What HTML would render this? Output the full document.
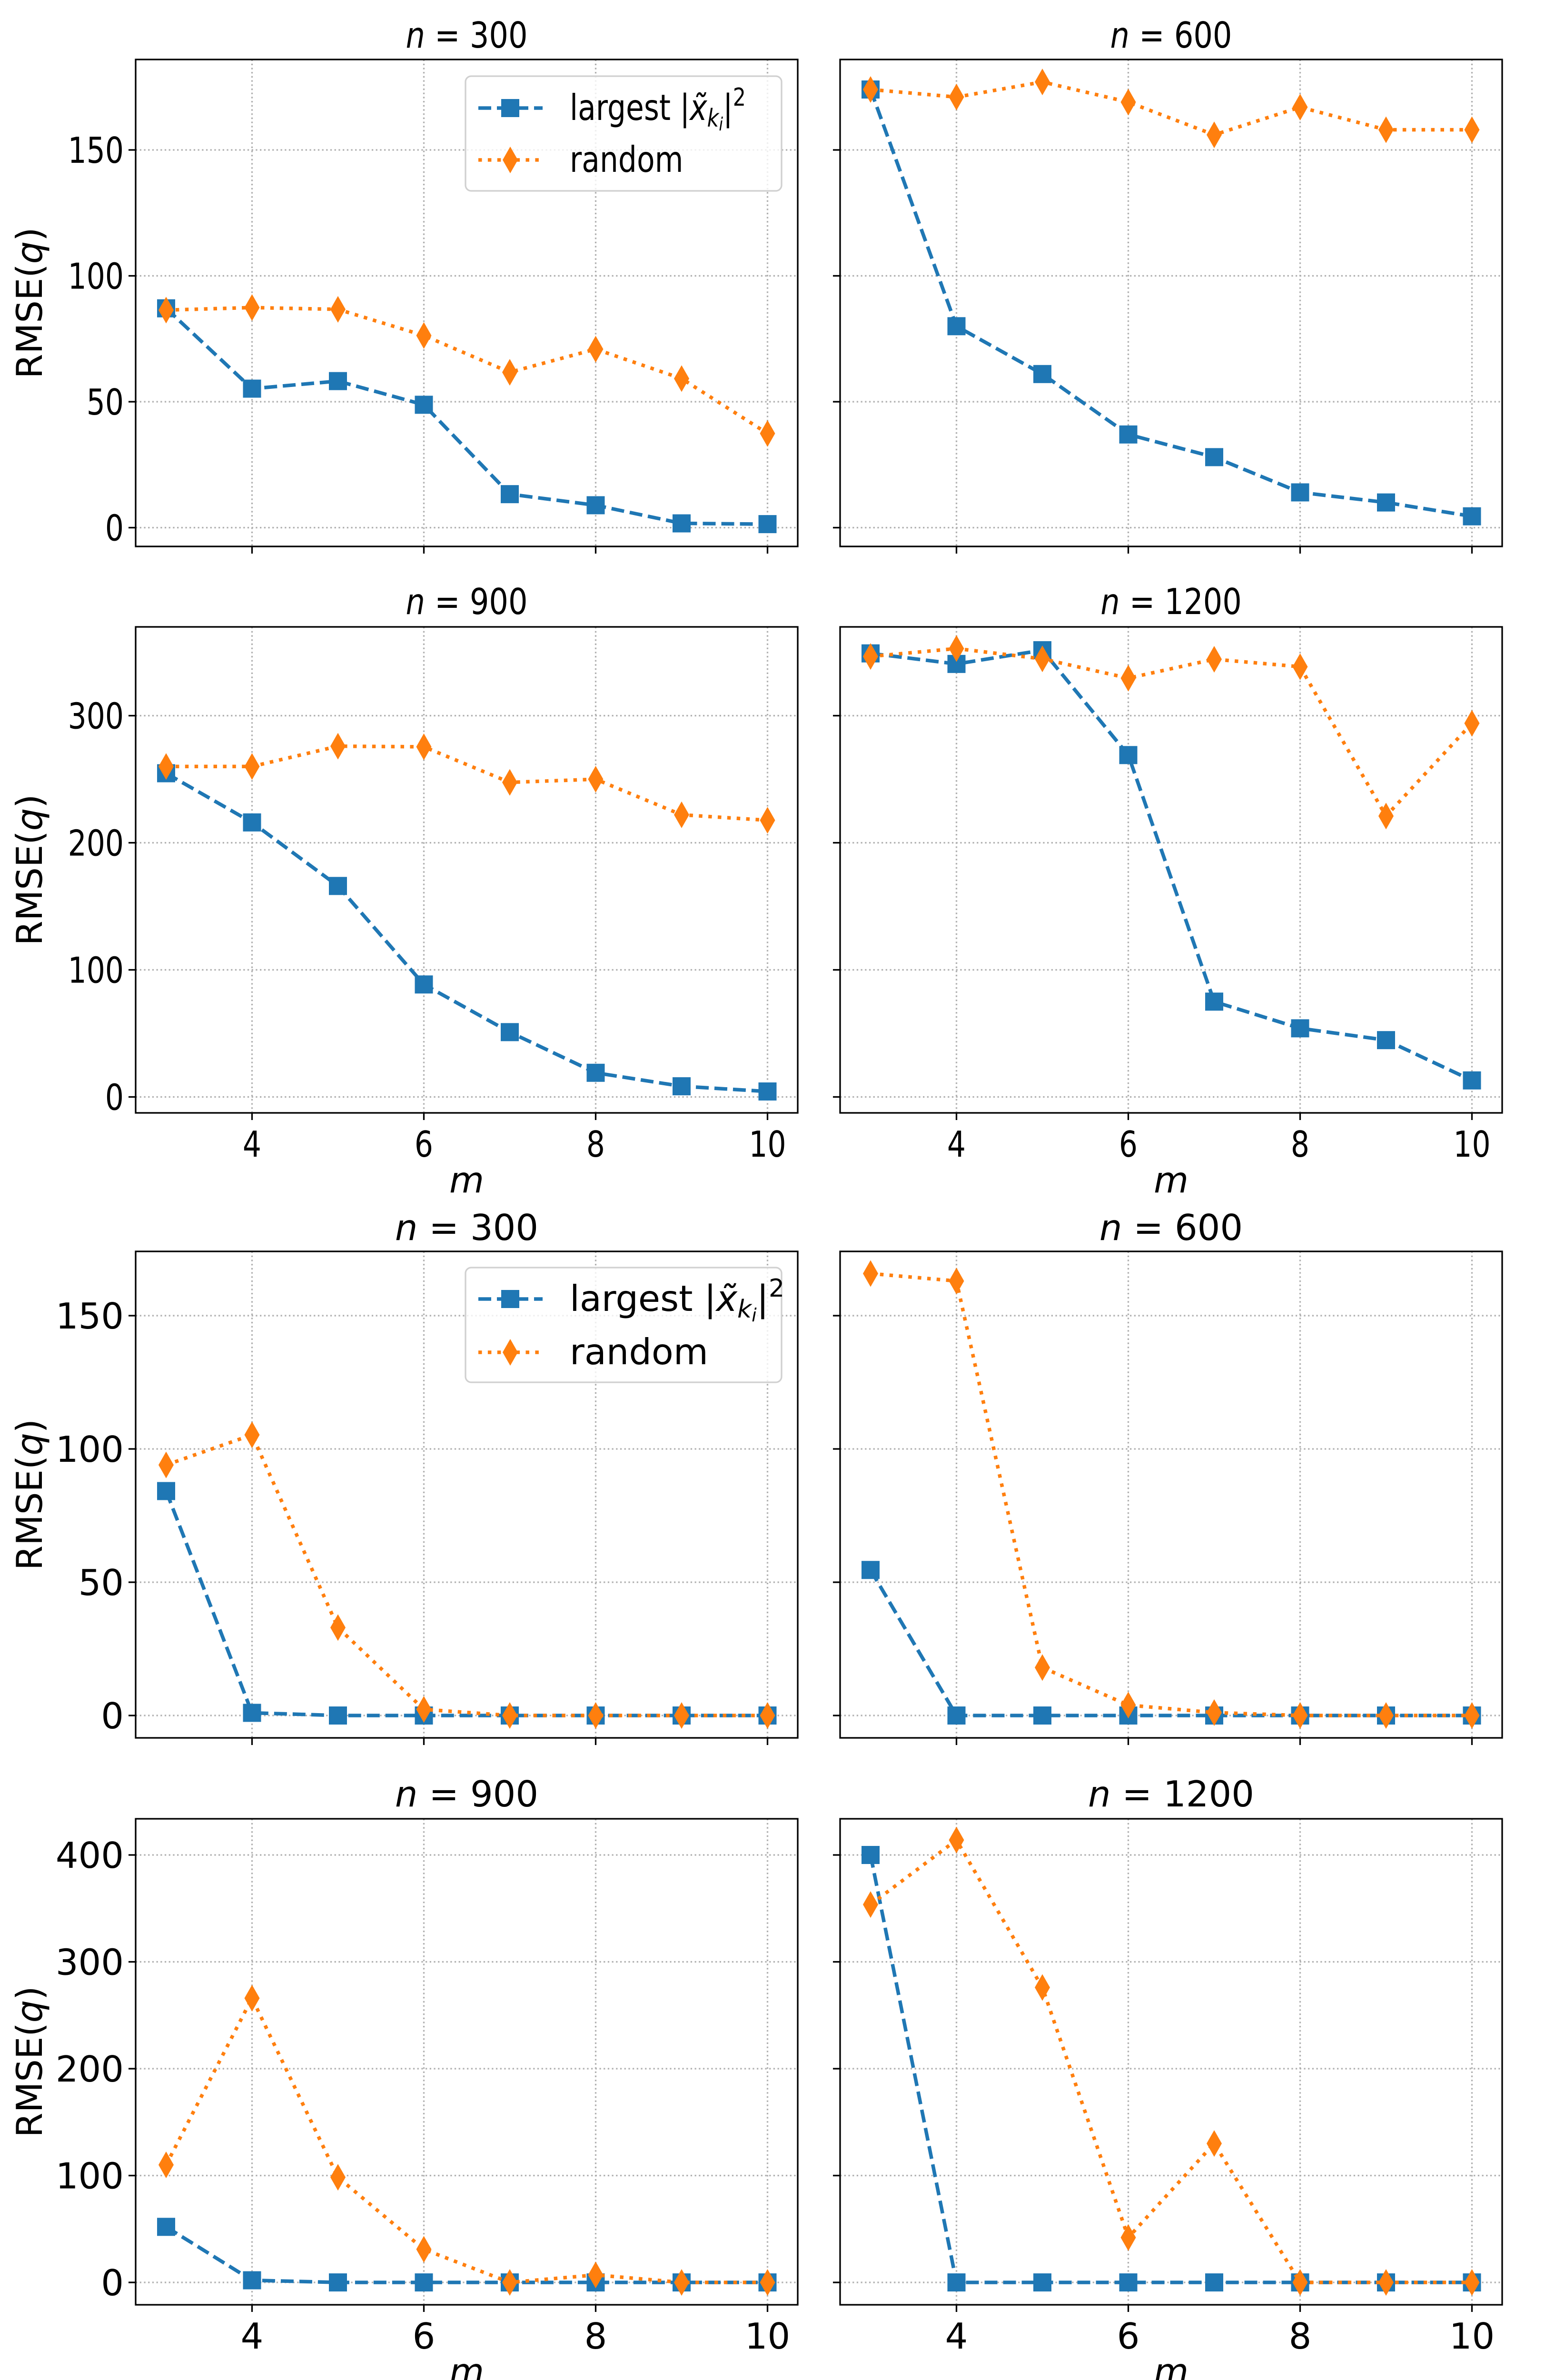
<!DOCTYPE html>
<html><head><meta charset="utf-8"><style>
html,body{margin:0;padding:0;background:#fff;overflow:hidden;width:3246px;height:5022px;}
svg{display:block;}
text{font-family:"DejaVu Sans","Liberation Sans",sans-serif;fill:#000;}
</style></head><body>
<svg id="chart" width="3246" height="5022" viewBox="0 0 3246 5022" xmlns="http://www.w3.org/2000/svg"></svg>
<script>
const mValues = [3,4,5,6,7,8,9,10];
const xTicks = [4,6,8,10];
const panelTitles = ["300","600","900","1200","300","600","900","1200"];
const largest300a = [87.1,55.2,58.2,48.8,13.3,8.9,1.7,1.4];
const random300a  = [86.4,87.4,86.7,76.3,61.7,70.9,59.2,37.4];
const largest600a = [174,80,61,37,28,14,10,4.5];
const random600a  = [174,171,177,169,156,167,158,158];
const largest900a = [254.7,216,166,88.5,51,19,8.4,4.3];
const random900a  = [260,260,276,275.5,247.5,250,222,217.7];
const largest1200a= [349,340.7,351.5,269,75,54,44.7,13];
const random1200a = [346.6,352.8,344.7,329.5,344.4,338.5,221,294];
const largest300b = [84.2,1,0,0,0,0,0,0];
const random300b  = [94,105.3,33,2.3,0,0,0,0];
const largest600b = [54.6,0,0,0,0,0,0,0];
const random600b  = [165.8,163,18,3.9,1.1,0,0,0];
const largest900b = [52,2,0,0,0,0,0,0];
const random900b  = [110,266,98.4,31,0,7,0,0];
const largest1200b= [400,0,0,0,0,0,0,0];
const random1200b = [353.6,414,276,42,130,0,0,0];
const yTicksRow1 = [0,50,100,150];
const yTicksRow2 = [0,100,200,300];
const yTicksRow3 = [0,50,100,150];
const yTicksRow4 = [0,100,200,300,400];

const NS="http://www.w3.org/2000/svg";
const svg=document.getElementById('chart');
function mk(tag,attrs,parent){const e=document.createElementNS(NS,tag);for(const k in attrs)e.setAttribute(k,attrs[k]);(parent||svg).appendChild(e);return e;}

const cols=[{l:285,r:1676},{l:1765,r:3156}];
const rows=[
 {top:125,bot:1148,zero:1108.5,ppu:5.29,ticks:yTicksRow1,titleY:100,cond:true,xlab:false},
 {top:1317,bot:2338,zero:2304.5,ppu:2.67,ticks:yTicksRow2,titleY:1290,cond:true,xlab:true,xtY:2430,mY:2505},
 {top:2629,bot:3651,zero:3604,ppu:5.6,ticks:yTicksRow3,titleY:2605,cond:false,xlab:false},
 {top:3821,bot:4842,zero:4795,ppu:2.245,ticks:yTicksRow4,titleY:3795,cond:false,xlab:true,xtY:4934,mY:5008}
];
const series=[[largest300a,random300a],[largest600a,random600a],[largest900a,random900a],[largest1200a,random1200a],
[largest300b,random300b],[largest600b,random600b],[largest900b,random900b],[largest1200b,random1200b]];
const BLUE="#1f77b4",ORANGE="#ff7f0e";
const FS=75, LW=7.5, SQ=38, DW=16, DH=28;

for(let ri=0;ri<4;ri++){
 const R=rows[ri];
 for(let ci=0;ci<2;ci++){
  const C=cols[ci];const pi=ri*2+ci;
  const xs=v=>C.l+64+(v-3)*180.5;
  const ys=v=>R.zero-v*R.ppu;
  const g=mk('g',{});
  
  
  const clipId='clip'+pi;
  const cp=mk('clipPath',{id:clipId},g);mk('rect',{x:C.l-20,y:R.top-30,width:C.r-C.l+40,height:R.bot-R.top+60},cp);
  const grid=mk('g',{},g);
  
  
  xTicks.forEach(t=>{mk('line',{x1:xs(t),x2:xs(t),y1:R.top,y2:R.bot,stroke:'#b0b0b0','stroke-width':3.3,'stroke-dasharray':'3.3 5.4'},grid);});
  R.ticks.forEach(t=>{mk('line',{x1:C.l,x2:C.r,y1:ys(t),y2:ys(t),stroke:'#b0b0b0','stroke-width':3.3,'stroke-dasharray':'3.3 5.4'},grid);});
  xTicks.forEach(t=>{mk('line',{x1:xs(t),x2:xs(t),y1:R.bot,y2:R.bot+15,stroke:'#000','stroke-width':3.3},g);
   if(R.xlab){const tx=mk('text',{x:xs(t),y:R.xtY,'font-size':FS,'text-anchor':'middle'},g);tx.textContent=t;
    
    
    if(R.cond)tx.setAttribute('transform',`translate(${xs(t)},0) scale(0.82,1) translate(${-xs(t)},0)`);}
  });
  R.ticks.forEach(t=>{mk('line',{x1:C.l-15,x2:C.l,y1:ys(t),y2:ys(t),stroke:'#000','stroke-width':3.3},g);
   if(ci===0){const tx=mk('text',{x:C.l-25,y:ys(t)+27,'font-size':FS,'text-anchor':'end'},g);tx.textContent=t;
    
    
    if(R.cond)tx.setAttribute('transform',`translate(${C.l-25},0) scale(0.82,1) translate(${-(C.l-25)},0)`);}
  });
  const [bl,rd]=series[pi];
  const pb=bl.map((v,i)=>xs(mValues[i])+','+ys(v)).join(' ');
  const pr=rd.map((v,i)=>xs(mValues[i])+','+ys(v)).join(' ');
  const sg=mk('g',{'clip-path':`url(#${clipId})`},g);
  const lb=mk('polyline',{points:pb,fill:'none',stroke:BLUE,'stroke-width':LW,'stroke-dasharray':'27 12'},sg);
  
  
  bl.forEach((v,i)=>{const r=mk('rect',{x:xs(mValues[i])-SQ/2,y:ys(v)-SQ/2,width:SQ,height:SQ,fill:BLUE},sg);
   
   });
  const lr=mk('polyline',{points:pr,fill:'none',stroke:ORANGE,'stroke-width':LW,'stroke-dasharray':'7.5 12.4'},sg);
  
  
  rd.forEach((v,i)=>{const x=xs(mValues[i]),y=ys(v);
   const d=mk('polygon',{points:`${x},${y-DH} ${x+DW},${y} ${x},${y+DH} ${x-DW},${y}`,fill:ORANGE},sg);
   
   });
  const fr=mk('rect',{x:C.l,y:R.top,width:C.r-C.l,height:R.bot-R.top,fill:'none',stroke:'#000','stroke-width':3.3},g);
  
  
  const cx=(C.l+C.r)/2;
  const ti=mk('text',{x:cx,y:R.titleY,'font-size':FS,'text-anchor':'middle'},g);
  
  
  if(R.cond)ti.setAttribute('transform',`translate(${cx},0) scale(0.85,1) translate(${-cx},0)`);
  const tn=mk('tspan',{'font-style':'italic'},ti);tn.textContent='n';
  const tr=mk('tspan',{},ti);tr.textContent=' = '+panelTitles[pi];
  if(R.xlab){const ml=mk('text',{x:cx,y:R.mY,'font-size':FS,'text-anchor':'middle','font-style':'italic'},g);ml.textContent='m';
   
   }
  if(ci===0){const my=(R.top+R.bot)/2;
   const yl=mk('text',{x:0,y:0,'font-size':FS,'text-anchor':'middle',transform:`translate(88,${my}) rotate(-90)`},g);
   
   
   const a=mk('tspan',{},yl);a.textContent='RMSE(';
   const b=mk('tspan',{'font-style':'italic'},yl);b.textContent='q';
   const c=mk('tspan',{},yl);c.textContent=')';}
  if(pi===0||pi===4){
   const L=pi===0?{t:160,b:401,r1:227,r2:336}:{t:2663,b:2904,r1:2729,r2:2841};
   const lg=mk('g',{},g);
   
   
   mk('rect',{x:978,y:L.t,width:664,height:L.b-L.t,rx:12,fill:'#fff','fill-opacity':0.8,stroke:'#d0d0d0','stroke-width':3.3},lg);
   mk('line',{x1:1005,x2:1140,y1:L.r1,y2:L.r1,stroke:BLUE,'stroke-width':LW,'stroke-dasharray':'27 12'},lg);
   mk('rect',{x:1072-SQ/2,y:L.r1-SQ/2,width:SQ,height:SQ,fill:BLUE},lg);
   mk('line',{x1:1005,x2:1140,y1:L.r2,y2:L.r2,stroke:ORANGE,'stroke-width':LW,'stroke-dasharray':'7.5 12.4'},lg);
   mk('polygon',{points:`1072,${L.r2-DH} ${1072+DW},${L.r2} 1072,${L.r2+DH} ${1072-DW},${L.r2}`,fill:ORANGE},lg);
   const t1=mk('text',{x:1197,y:L.r1+25,'font-size':FS},lg);
   
   
   if(R.cond)t1.setAttribute('transform',`translate(1197,0) scale(0.82,1) translate(-1197,0)`);
   const s1=mk('tspan',{},t1);s1.textContent='largest |';
   const s2=mk('tspan',{'font-style':'italic'},t1);s2.textContent='x̃';
   const s3=mk('tspan',{'font-style':'italic','font-size':52,dy:14},t1);s3.textContent='k';
   const s4=mk('tspan',{'font-style':'italic','font-size':38,dy:8},t1);s4.textContent='i';
   const s5=mk('tspan',{dy:-22},t1);s5.textContent='|';
   const s6=mk('tspan',{'font-size':52,dy:-30},t1);s6.textContent='2';
   const t2=mk('text',{x:1197,y:L.r2+25,'font-size':FS},lg);t2.textContent='random';
   
   
   if(R.cond)t2.setAttribute('transform',`translate(1197,0) scale(0.82,1) translate(-1197,0)`);
  }
 }
}
</script>
</body></html>
